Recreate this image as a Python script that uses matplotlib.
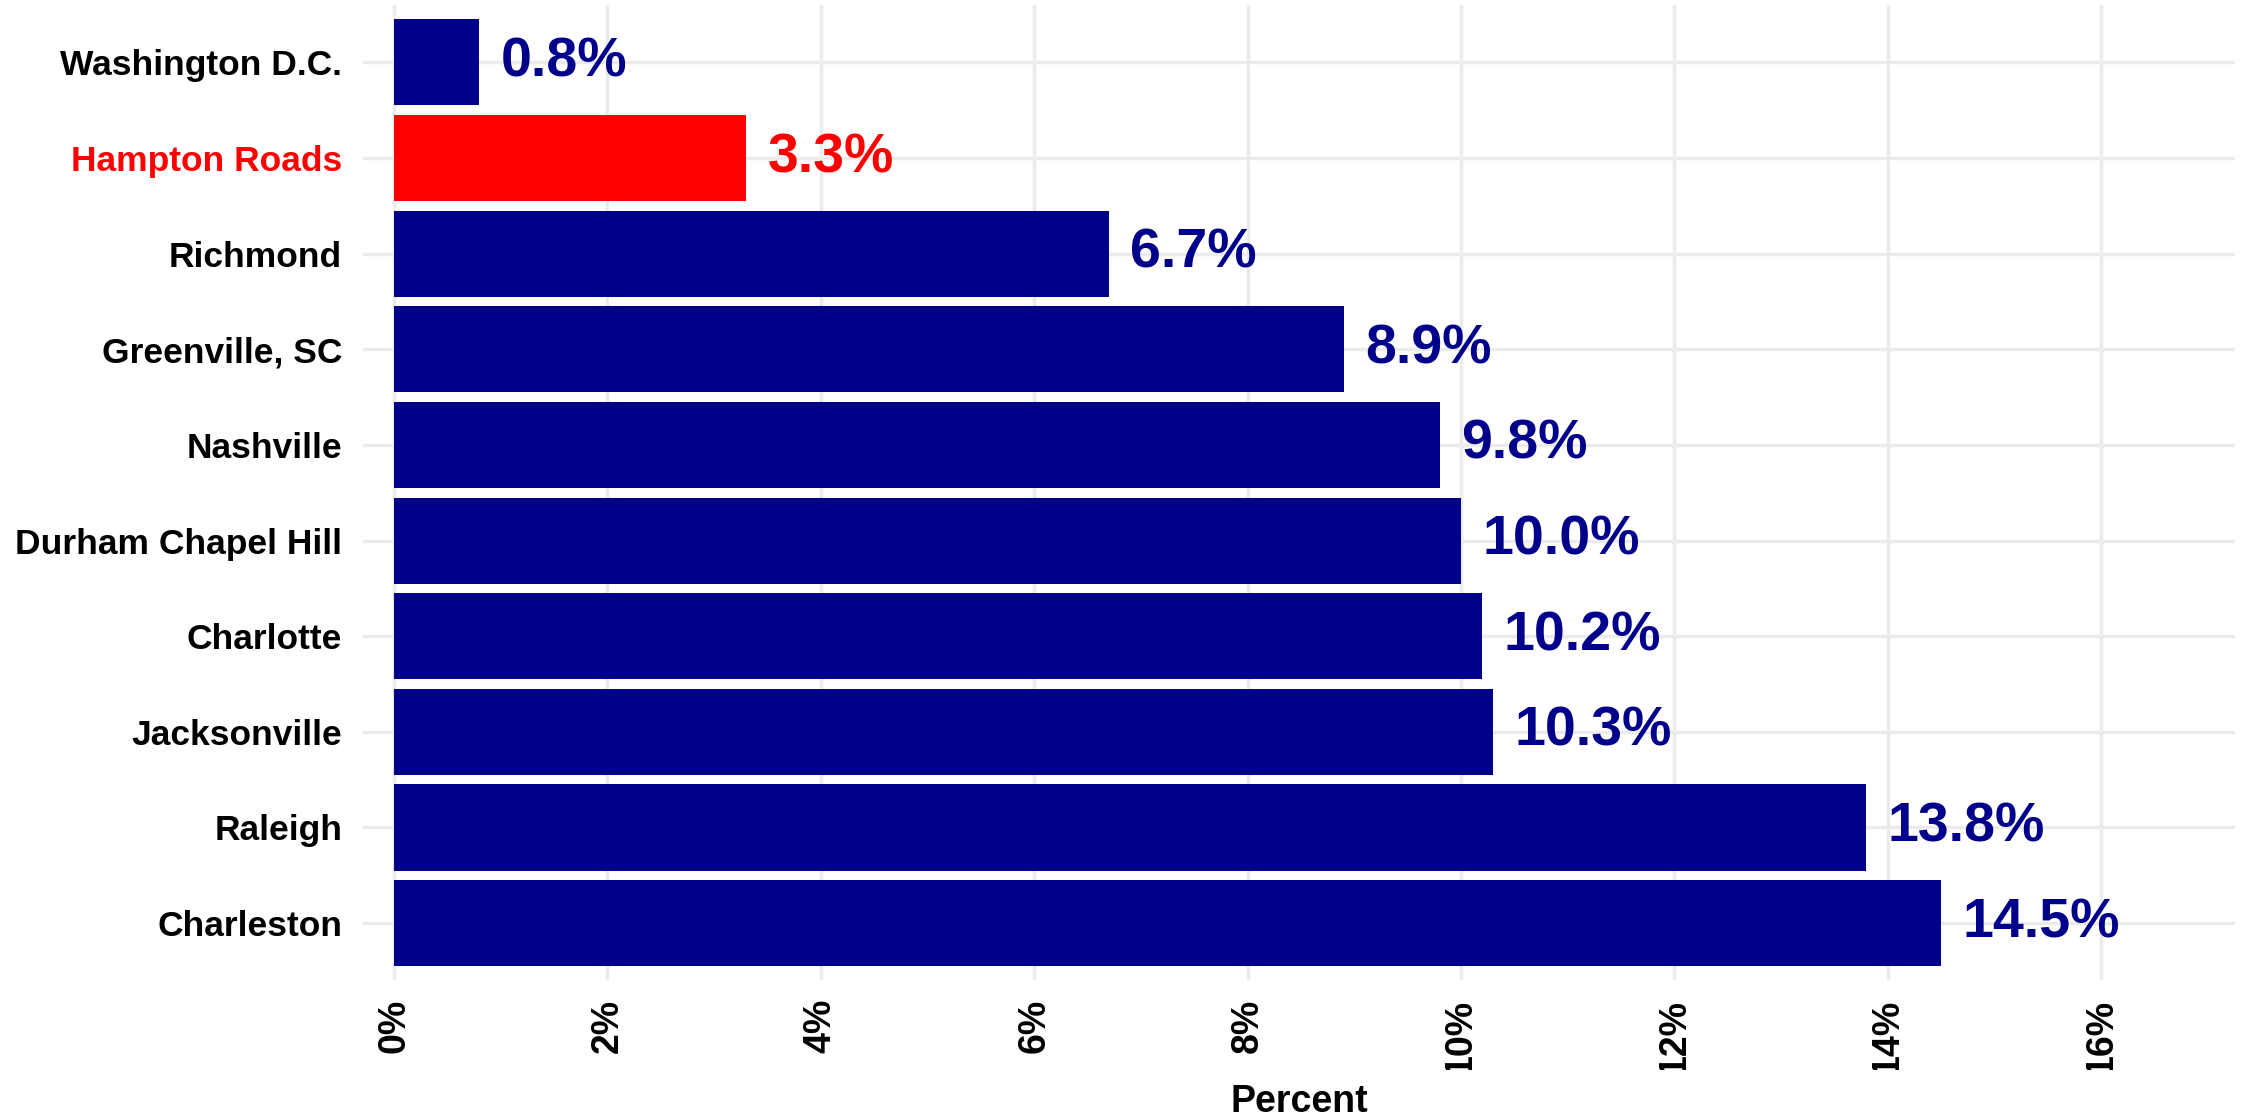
import numpy as np
import matplotlib.pyplot as plt
from matplotlib.transforms import Bbox, TransformedBbox

# growth by metro area, bottom to top
metros = ["Charleston", "Raleigh", "Jacksonville", "Charlotte", "Durham Chapel Hill",
          "Nashville", "Greenville, SC", "Richmond", "Hampton Roads", "Washington D.C."]
growth = [14.5, 13.8, 10.3, 10.2, 10.0, 9.8, 8.9, 6.7, 3.3, 0.8]
highlight = "Hampton Roads"
ticks = [0, 2, 4, 6, 8, 10, 12, 14, 16]

navy = "#00008B"
red = "#FF0000"
colors = [red if m == highlight else navy for m in metros]

plt.rcParams["font.family"] = ["Liberation Sans", "DejaVu Sans"]
plt.rcParams["font.weight"] = "bold"

fig = plt.figure(figsize=(22.44, 11.18), dpi=100)
left, width = 0.1618, 0.834
ax = fig.add_axes([left, 0.123, width, 0.8725])

y = np.arange(len(metros))
ax.barh(y, growth, height=0.9, color=colors, zorder=2)

for yi, v, c in zip(y, growth, colors):
    ax.text(v + 0.2, yi, f"{v:.1f}%", color=c, fontsize=40, fontweight="bold",
            va="center", ha="left", zorder=3)

ax.set_xlim(-0.29, 17.25)
ax.set_ylim(-0.6, len(metros) - 0.4)
ax.set_xticks(ticks)
ax.set_xticklabels([f"{t}%" for t in ticks], rotation=90, fontsize=27, fontweight="bold")
ax.set_yticks(y)
ax.set_yticklabels(metros, fontsize=25.5, fontweight="bold")
for lab, m in zip(ax.get_yticklabels(), metros):
    if m == highlight:
        lab.set_color(red)

ax.grid(True, color="#EBEBEB", linewidth=2.5, zorder=0)
ax.set_axisbelow(True)
for s in ax.spines.values():
    s.set_visible(False)
ax.tick_params(axis="x", length=0, pad=13)
ax.tick_params(axis="y", length=0, pad=15)

# tick labels run past the bottom margin and get cut off
clip = TransformedBbox(Bbox.from_extents(0, 0.043, 1, 1), fig.transFigure)
for lab in ax.get_xticklabels():
    lab.set_clip_on(True)
    lab.set_clip_box(clip)

ax.set_xlabel("Percent", fontsize=27, fontweight="bold", va="baseline")
ax.xaxis.set_label_coords(left + width / 2, 6 / 1118, transform=fig.transFigure)

fig.savefig("out.png", dpi=100, facecolor="white")
